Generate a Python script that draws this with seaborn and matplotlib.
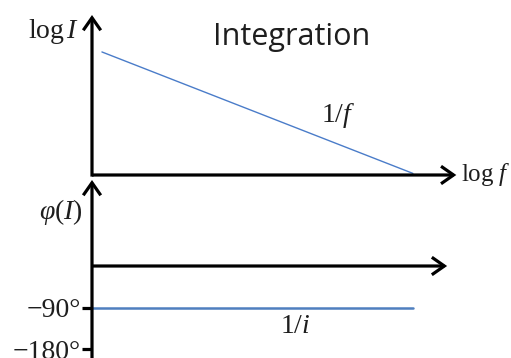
import matplotlib
matplotlib.use("Agg")
import matplotlib.pyplot as plt
import seaborn as sns

# Schematic Bode plot of an integrator: magnitude falls as 1/f, phase fixed at -90 degrees
log_f = [0.27, 8.72]
log_I = [7.69, 0.10]
phase_f = [0.0, 8.72]
phase_deg = [-90.0, -90.0]
phase_ticks = [-90, -180]
phase_tick_labels = ["\u221290\u00b0", "\u2212180\u00b0"]

sns.set_theme(style="white")
plt.rcParams["mathtext.fontset"] = "custom"
plt.rcParams["mathtext.rm"] = "Liberation Serif"
plt.rcParams["mathtext.it"] = "Liberation Serif:italic"
plt.rcParams["font.family"] = ["Liberation Serif", "DejaVu Serif"]

W, H = 511, 358
fig = plt.figure(figsize=(W / 100, H / 100), dpi=100)
fig.patch.set_facecolor("white")

left = 92 / W
width = 368 / W
ax_mag = fig.add_axes([left, (H - 175) / H, width, 160 / H])
ax_ph = fig.add_axes([left, 0.0, width, 178 / H])

txt = "#1e1e1e"
blue_thin = "#4A7CC9"
blue_thick = "#4F7FBF"
lw_axis = 2.3
arrow_kw = dict(arrowstyle="->,head_length=0.6,head_width=0.42", lw=lw_axis,
                color="black", shrinkA=0, shrinkB=0, mutation_scale=15,
                capstyle="butt", joinstyle="miter")

for ax in (ax_mag, ax_ph):
    ax.set_facecolor("none")
    for s in ax.spines.values():
        s.set_visible(False)
    ax.set_xlim(0, 10)
    ax.set_xlabel("")
    ax.set_ylabel("")
    ax.set_xticks([])

# Magnitude panel
ax_mag.set_ylim(0, 10)
ax_mag.set_yticks([])
sns.lineplot(x=log_f, y=log_I, ax=ax_mag, color=blue_thin, linewidth=1.0)
ax_mag.annotate("", xy=(0, 10), xytext=(0, -0.1), xycoords="data",
                arrowprops=arrow_kw, annotation_clip=False)
ax_mag.annotate("", xy=(9.9, 0), xytext=(0, 0), xycoords="data",
                arrowprops=arrow_kw, annotation_clip=False)
ax_mag.text(5.43, 8.65, "Integration", fontsize=22, family=["Open Sans", "DejaVu Sans"],
            color=txt, ha="center", va="center")
ax_mag.text(6.68, 3.7, r"$1/f$", fontsize=20, color=txt, ha="center", va="center")
ax_mag.text(10.02, 0.05, r"$\log\,f$", fontsize=18, color=txt, ha="left", va="center",
            clip_on=False)
ax_mag.text(-0.36, 9.0, r"$\log I$", fontsize=20, color=txt, ha="right", va="center",
            clip_on=False)

# Phase panel
ax_ph.set_ylim(-199.5, 186.5)
sns.lineplot(x=phase_f, y=phase_deg, ax=ax_ph, color=blue_thick, linewidth=1.8)
ax_ph.annotate("", xy=(0, 186.5), xytext=(0, -199.5), xycoords="data",
               arrowprops=arrow_kw, annotation_clip=False)
ax_ph.annotate("", xy=(9.65, 0), xytext=(0, 0), xycoords="data",
               arrowprops=arrow_kw, annotation_clip=False)
ax_ph.set_yticks(phase_ticks)
ax_ph.set_yticklabels(phase_tick_labels)
ax_ph.tick_params(axis="y", which="major", direction="out", length=7, width=lw_axis,
                  color="black", pad=1, labelsize=20, labelcolor=txt, left=True)
ax_ph.text(-0.26, 117, r"$\varphi(I)$", fontsize=20, color=txt, ha="right", va="center",
           clip_on=False)
ax_ph.text(5.52, -132, r"$1/i$", fontsize=20, color=txt, ha="center", va="center")

fig.savefig("out.png", dpi=100, facecolor="white")
